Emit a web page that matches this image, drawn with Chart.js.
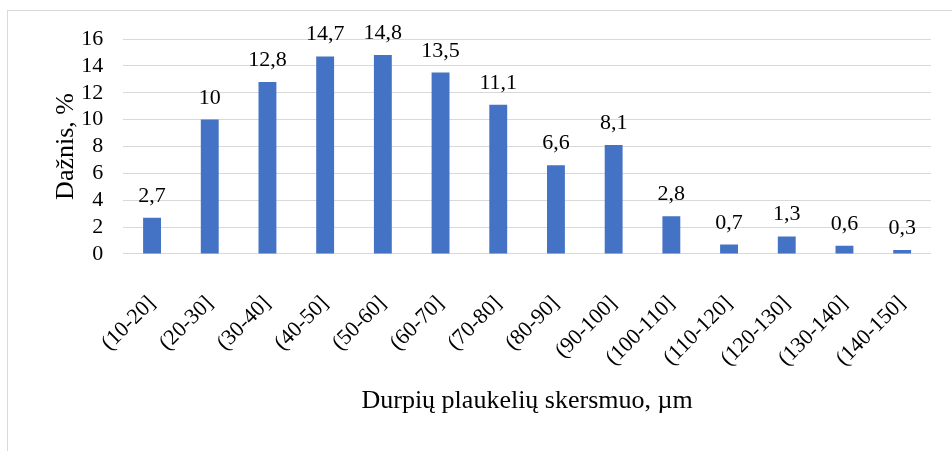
<!DOCTYPE html>
<html>
<head>
<meta charset="utf-8">
<script src="https://cdn.jsdelivr.net/npm/chart.js@4.4.1/dist/chart.umd.min.js"></script>
<style>
  html, body { margin: 0; padding: 0; background: #fff; }
  #wrap { position: relative; width: 952px; height: 451px; overflow: hidden; }
  #frame { position: absolute; left: 7px; top: 10px; width: 960px; height: 460px; border: 1px solid #d9d9d9; }
  canvas { position: absolute; left: 0; top: 0; }
</style>
</head>
<body>
<div id="wrap">
  <div id="frame"></div>
  <canvas id="hist" width="952" height="451"></canvas>
</div>
<script>
// diameter classes and frequency (%)
var classes = ['(10-20]', '(20-30]', '(30-40]', '(40-50]', '(50-60]', '(60-70]', '(70-80]',
  '(80-90]', '(90-100]', '(100-110]', '(110-120]', '(120-130]', '(130-140]', '(140-150]'];
var freq = [2.7, 10, 12.8, 14.7, 14.8, 13.5, 11.1, 6.6, 8.1, 2.8, 0.7, 1.3, 0.6, 0.3];
var yTicks = [0, 2, 4, 6, 8, 10, 12, 14, 16];

var serif = "'Liberation Serif', 'Times New Roman', serif";

// value labels above bars, decimal comma
const barLabels = {
  id: 'barLabels',
  afterDatasetsDraw(chart) {
    const ctx = chart.ctx;
    const meta = chart.getDatasetMeta(0);
    ctx.save();
    ctx.font = '22px ' + serif;
    ctx.fillStyle = '#000';
    ctx.textAlign = 'center';
    ctx.textBaseline = 'alphabetic';
    meta.data.forEach(function (bar, i) {
      ctx.fillText(String(freq[i]).replace('.', ','), bar.x, bar.y - 16);
    });
    ctx.restore();
  }
};

const config = {
  type: 'bar',
  data: {
    labels: classes,
    datasets: [{
      data: freq,
      backgroundColor: '#4472C4',
      barPercentage: 0.31,
      categoryPercentage: 1
    }]
  },
  options: {
    responsive: false,
    animation: false,
    layout: { padding: { left: 51, right: 21, top: 39, bottom: 30 } },
    plugins: {
      legend: { display: false },
      tooltip: { enabled: false }
    },
    scales: {
      x: {
        // rotated first label may hang left of the plot, don't reserve room for it
        afterFit(axis) { axis.paddingLeft = 0; axis.paddingRight = 0; },
        grid: { display: false },
        border: { display: false },
        ticks: {
          color: '#000',
          font: { family: serif, size: 22 },
          maxRotation: 45,
          minRotation: 45,
          padding: 29
        },
        title: {
          display: true,
          text: 'Durpių plaukelių skersmuo, µm',
          color: '#000',
          font: { family: serif, size: 26 },
          padding: { top: -15, bottom: 4 }
        }
      },
      y: {
        min: 0,
        max: 16,
        afterBuildTicks(axis) {
          axis.ticks = yTicks.map(function (v) { return { value: v }; });
        },
        grid: { color: '#d9d9d9', lineWidth: 1, drawTicks: false },
        border: { display: false },
        ticks: {
          color: '#000',
          font: { family: serif, size: 22 },
          autoSkip: false,
          padding: 20
        },
        title: {
          display: true,
          text: 'Dažnis, %',
          color: '#000',
          font: { family: serif, size: 26 },
          padding: { top: 0, bottom: -21 }
        }
      }
    }
  },
  plugins: [barLabels]
};

const histChart = new Chart(document.getElementById('hist'), config);
</script>
</body>
</html>
